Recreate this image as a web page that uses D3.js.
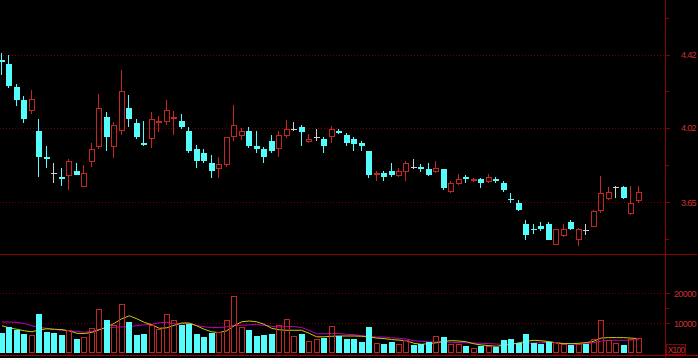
<!DOCTYPE html>
<html><head><meta charset="utf-8">
<script src="https://cdn.jsdelivr.net/npm/d3@7"></script>
<style>html,body{margin:0;padding:0;background:#000;overflow:hidden}</style>
</head><body>
<svg id="c" width="698" height="358"></svg>
<script>
// ---- data ----
const openP = [4.392,4.369,4.237,4.169,4.111,4.006,3.873,3.790,3.773,3.778,3.801,3.724,3.847,3.921,4.076,3.921,4.001,4.124,4.045,3.941,
3.962,4.045,4.053,4.066,4.057,4.006,3.912,3.890,3.842,3.811,3.831,3.972,3.980,4.005,3.924,3.912,3.953,3.911,3.980,4.013,
4.024,3.949,3.972,3.962,3.972,4.005,3.984,3.963,3.944,3.902,3.780,3.790,3.801,3.778,3.798,3.819,3.823,3.811,3.798,3.811,
3.698,3.737,3.770,3.751,3.762,3.749,3.762,3.741,3.668,3.649,3.548,3.528,3.538,3.548,3.455,3.494,3.558,3.475,3.520,3.535,
3.608,3.665,3.724,3.721,3.597,3.657];
const closeP = [4.381,4.246,4.169,4.067,4.174,3.873,3.863,3.790,3.763,3.851,3.781,3.790,3.912,4.124,3.975,4.034,4.218,4.066,3.975,3.931,
4.066,4.057,4.115,4.076,4.024,3.903,3.852,3.852,3.801,3.834,3.975,4.036,4.005,3.924,3.912,3.873,3.902,3.984,4.013,4.013,
3.996,3.963,3.972,3.924,4.013,3.993,3.944,3.936,3.924,3.781,3.790,3.773,3.781,3.801,3.842,3.819,3.813,3.781,3.814,3.719,
3.741,3.760,3.760,3.762,3.744,3.770,3.754,3.711,3.660,3.613,3.497,3.520,3.528,3.478,3.528,3.528,3.528,3.528,3.520,3.610,
3.692,3.700,3.724,3.671,3.649,3.700];
const highP = [4.427,4.420,4.257,4.187,4.224,4.067,3.924,3.842,3.816,3.861,3.842,3.831,3.941,4.202,4.106,4.053,4.335,4.196,4.066,4.057,
4.101,4.083,4.169,4.111,4.094,4.024,3.932,3.912,3.881,3.870,3.975,4.142,4.018,4.024,4.005,3.921,3.984,4.001,4.062,4.053,
4.036,3.989,4.013,3.972,4.030,4.013,3.993,3.975,3.953,3.902,3.803,3.803,3.842,3.814,3.851,3.861,3.836,3.842,3.851,3.811,
3.752,3.786,3.781,3.765,3.768,3.786,3.770,3.752,3.692,3.660,3.566,3.551,3.558,3.558,3.528,3.548,3.569,3.532,3.548,3.613,
3.778,3.724,3.729,3.727,3.727,3.727];
const lowP = [4.307,4.235,4.137,4.046,4.094,3.773,3.816,3.741,3.729,3.708,3.781,3.724,3.823,3.911,3.903,3.865,3.984,4.024,3.963,3.924,
3.916,3.996,4.036,3.984,4.013,3.893,3.814,3.842,3.765,3.765,3.823,3.954,3.958,3.916,3.890,3.842,3.893,3.873,3.967,4.006,
3.924,3.941,3.954,3.893,3.944,3.988,3.924,3.903,3.903,3.765,3.754,3.754,3.770,3.773,3.754,3.811,3.798,3.776,3.790,3.708,
3.694,3.733,3.744,3.746,3.719,3.744,3.744,3.700,3.649,3.608,3.478,3.505,3.517,3.475,3.452,3.490,3.520,3.448,3.497,3.534,
3.600,3.660,3.671,3.665,3.589,3.645];
const volume = [6900,8770,7670,6560,6220,13230,7100,6770,6220,7890,4670,5440,8560,14900,11230,9330,16330,10440,6220,6330,
9550,8220,13000,11220,9330,9890,6330,5440,6780,7100,11220,19000,8770,7670,5780,6000,6330,9330,11330,5670,
6330,4000,4670,5220,9000,5780,4890,4670,3780,8780,3560,3220,3670,3000,4330,2890,3220,3780,5670,5440,
3000,3000,2440,1890,2560,2560,2110,4330,4890,3560,6330,3560,3000,3670,3670,3000,2890,3220,3000,4670,
11000,4560,3440,2890,4670,5220];
const volMA5 = [9170,8500,8000,7500,7170,7830,8170,8000,7900,7500,6670,6570,7000,7830,8770,10000,11500,12500,11500,10330,
9500,8330,8500,9330,10100,10100,9170,8000,7170,6900,7500,9170,10500,10770,10500,9670,8330,7830,7670,7670,
7670,6670,5500,5500,5670,5770,5770,5770,5670,5430,5100,4900,4570,4400,4170,3330,3000,3230,3500,4000,
4230,4100,3830,3170,2770,2570,2330,2670,3000,3500,4000,4330,4170,3900,3500,3230,3230,3330,3570,4000,
5100,5230,5230,5230,5070,4900];
const volMA10 = [10430,10430,10330,9900,9170,8670,8330,8000,7670,7500,7330,7000,7330,8000,8500,8670,8770,8900,9230,9500,
9670,10170,10330,9830,9830,9900,9230,8830,8570,8570,8830,9330,9330,9500,9570,9330,9000,8770,8900,8900,
8570,7670,6500,6500,6570,6570,6330,6230,5900,5600,5430,5430,5170,5000,4770,4170,4000,3770,3770,3770,
3670,3570,3500,3430,3330,3230,3100,3000,3100,3230,3330,3430,3500,3770,3430,3230,3100,3000,3170,3570,
4070,4330,4330,4330,4430,4570];
const priceTicks = [4.42, 4.02, 3.65];
const priceMinorTicks = [4.635, 4.217, 3.831, 3.48];
const volTicks = [20000, 10000];
const volMinorTicks = [15000];
const volUnit = "X100";

// ---- styles ----
const RED = "#c42626", CYAN = "#55fcfc", DOJI = "#d0d0d0";
const LINE = "#8a0000", GRID = "#6a0000", TXT = "#cc3030";
const MA5C = "#cccc00", MA10C = "#c000c0";

const W = 698, H = 358, AXIS_X = 665;
const svg = d3.select("#c");
svg.append("rect").attr("width", W).attr("height", H).attr("fill", "#000");

const n = openP.length;
const idx = d3.range(n);
const x = d3.scaleLinear().domain([0, n - 1]).range([2, 638.7]);
const y = d3.scaleLog().domain([3.65, 4.42]).range([202.3, 54.7]);
const yv = d3.scaleLinear().domain([0, 20000]).range([353.3, 293.3]);

const px = v => Math.round(v) + 0.5;

// grid lines
const g = svg.append("g");
priceTicks.forEach(t => g.append("line").attr("x1", 0).attr("x2", AXIS_X).attr("y1", px(y(t))).attr("y2", px(y(t)))
  .attr("stroke", GRID).attr("stroke-dasharray", "1,2"));
volTicks.forEach(t => g.append("line").attr("x1", 0).attr("x2", AXIS_X).attr("y1", px(yv(t))).attr("y2", px(yv(t)))
  .attr("stroke", GRID).attr("stroke-dasharray", "1,2"));

// frame lines
svg.append("line").attr("x1", px(AXIS_X)).attr("x2", px(AXIS_X)).attr("y1", 0).attr("y2", H).attr("stroke", LINE);
svg.append("line").attr("x1", 0).attr("x2", W).attr("y1", 254.5).attr("y2", 254.5).attr("stroke", LINE);
svg.append("line").attr("x1", 0).attr("x2", W).attr("y1", 355.5).attr("y2", 355.5).attr("stroke", "#a00000");

// axes
function styleAxis(sel) {
  sel.select(".domain").remove();
  sel.selectAll(".tick line").attr("stroke", LINE).attr("shape-rendering", "crispEdges");
  sel.selectAll(".tick text").attr("fill", TXT).attr("x", W - 2 - AXIS_X - 0.5).attr("text-anchor", "end")
    .attr("font-family", "Liberation Sans, Arial, sans-serif").attr("font-size", 9).attr("letter-spacing", "-0.6")
    .attr("dy", "0.34em");
}
const pAxis = d3.axisRight(y).tickValues(priceTicks).tickSize(4).tickFormat(d3.format(".2f"));
svg.append("g").attr("transform", `translate(${px(AXIS_X)},0)`).call(pAxis).call(styleAxis);
const pMinor = d3.axisRight(y).tickValues(priceMinorTicks).tickSize(3).tickFormat("");
svg.append("g").attr("transform", `translate(${px(AXIS_X)},0)`).call(pMinor).call(styleAxis);
const vAxis = d3.axisRight(yv).tickValues(volTicks).tickSize(4).tickFormat(d3.format("d"));
svg.append("g").attr("transform", `translate(${px(AXIS_X)},0)`).call(vAxis).call(styleAxis);
const vMinor = d3.axisRight(yv).tickValues(volMinorTicks).tickSize(3).tickFormat("");
svg.append("g").attr("transform", `translate(${px(AXIS_X)},0)`).call(vMinor).call(styleAxis);

// unit box
svg.append("rect").attr("x", 666.5).attr("y", 344.5).attr("width", 19).attr("height", 10)
  .attr("fill", "none").attr("stroke", LINE);
svg.append("text").attr("x", 676).attr("y", 352.5).attr("text-anchor", "middle").attr("fill", TXT)
  .attr("font-family", "Liberation Sans, Arial, sans-serif").attr("font-size", 8.5).attr("letter-spacing", "-0.8")
  .text(volUnit);

// direction
const dir = i => closeP[i] > openP[i] ? 1 : closeP[i] < openP[i] ? -1 : 0;
const vdir = i => { const d = dir(i); if (d !== 0) return d; return (i > 0 && closeP[i] < closeP[i - 1]) ? -1 : 1; };
const left = i => Math.round(x(i) - 3);

// candles
const cg = svg.append("g").attr("shape-rendering", "crispEdges");
idx.forEach(i => {
  const d = dir(i), L = left(i), cx = L + 2.5;
  const yO = y(openP[i]), yC = y(closeP[i]), yH = y(highP[i]), yL = y(lowP[i]);
  const top = Math.round(Math.min(yO, yC)), bot = Math.round(Math.max(yO, yC));
  if (d === 0) {
    cg.append("line").attr("x1", cx).attr("x2", cx).attr("y1", yH).attr("y2", yL).attr("stroke", DOJI);
    cg.append("line").attr("x1", L).attr("x2", L + 6).attr("y1", top + 0.5).attr("y2", top + 0.5).attr("stroke", DOJI);
  } else if (d > 0) {
    cg.append("line").attr("x1", cx).attr("x2", cx).attr("y1", yH).attr("y2", top).attr("stroke", RED);
    cg.append("line").attr("x1", cx).attr("x2", cx).attr("y1", bot).attr("y2", yL).attr("stroke", RED);
    cg.append("rect").attr("x", L + 0.5).attr("y", top + 0.5).attr("width", 5).attr("height", Math.max(1, bot - top - 1))
      .attr("fill", "none").attr("stroke", RED);
  } else {
    cg.append("line").attr("x1", cx).attr("x2", cx).attr("y1", yH).attr("y2", yL).attr("stroke", CYAN);
    cg.append("rect").attr("x", L).attr("y", top).attr("width", 6).attr("height", Math.max(1, bot - top))
      .attr("fill", CYAN);
  }
});

// volume MA lines (behind bars)
const vline = d3.line().x((v, i) => x(i)).y(v => yv(v));
svg.append("path").attr("d", vline(volMA10)).attr("fill", "none").attr("stroke", MA10C).attr("stroke-width", 1);
svg.append("path").attr("d", vline(volMA5)).attr("fill", "none").attr("stroke", MA5C).attr("stroke-width", 1);

// volume bars
const vg = svg.append("g").attr("shape-rendering", "crispEdges");
idx.forEach(i => {
  const L = left(i), top = Math.round(yv(volume[i])), base = Math.round(yv(0));
  if (vdir(i) > 0) {
    vg.append("rect").attr("x", L + 0.5).attr("y", top + 0.5).attr("width", 5).attr("height", base - top - 1)
      .attr("fill", "none").attr("stroke", RED);
  } else {
    vg.append("rect").attr("x", L).attr("y", top).attr("width", 6).attr("height", base - top).attr("fill", CYAN);
  }
});
</script>
</body></html>
